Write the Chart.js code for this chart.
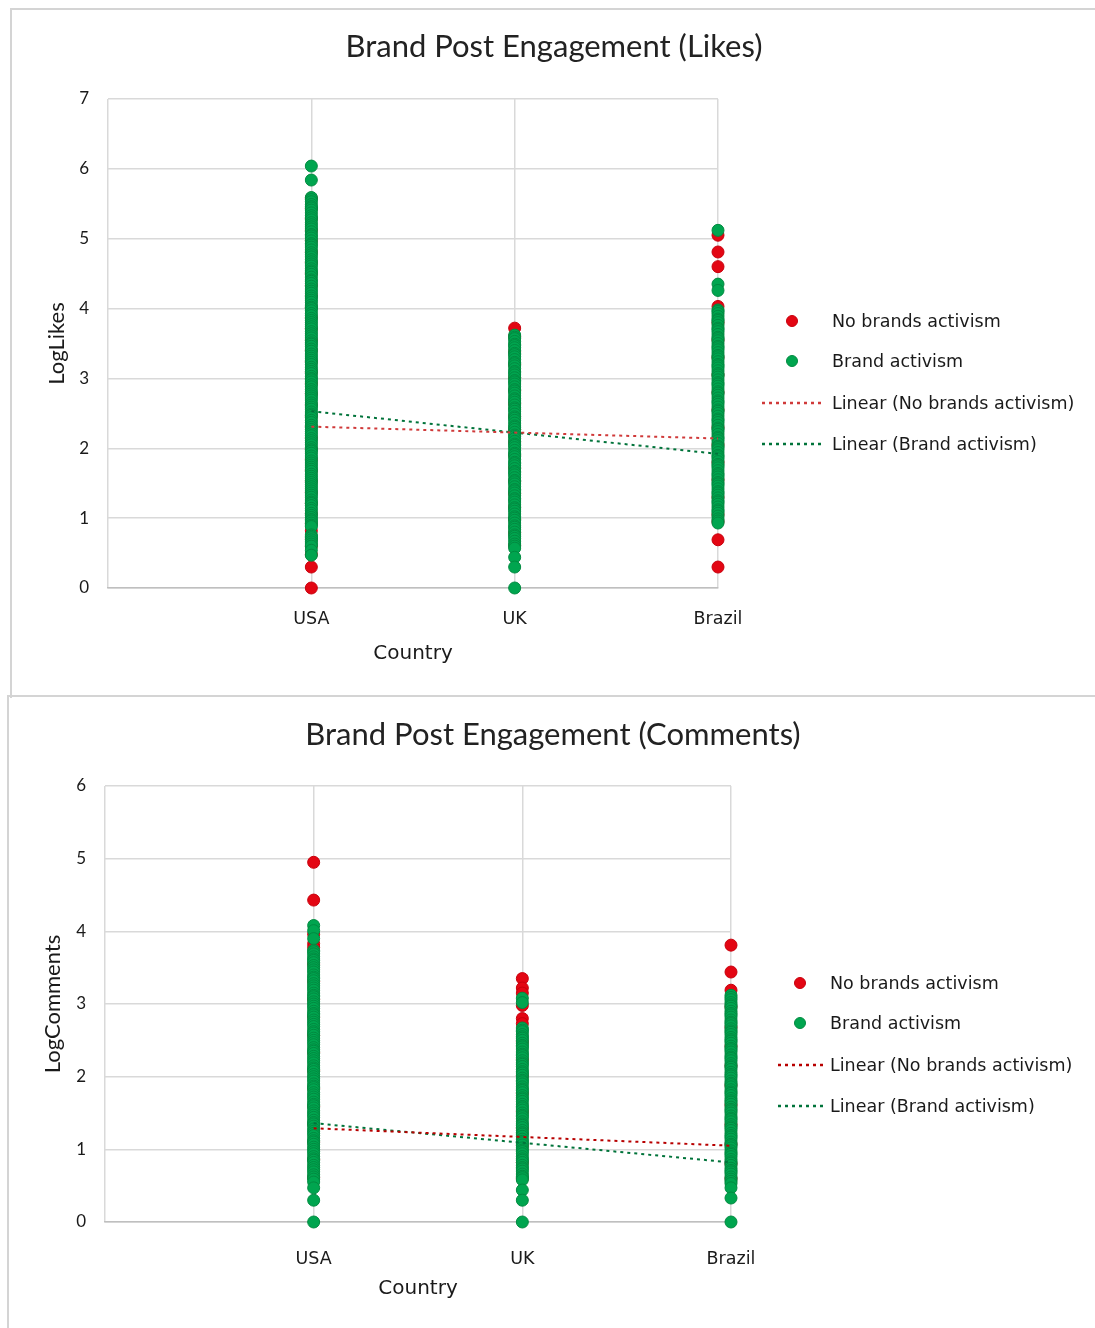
<!DOCTYPE html>
<html>
<head>
<meta charset="utf-8">
<title>Brand Post Engagement</title>
<script src="https://cdn.jsdelivr.net/npm/chart.js@4.4.0/dist/chart.umd.min.js"></script>
<style>
  html, body { margin: 0; padding: 0; background: #ffffff; }
  body { position: relative; width: 1095px; height: 1328px; overflow: hidden; }
  .panel { position: absolute; box-sizing: border-box; border-top: 2px solid #d4d4d4; border-left: 2px solid #d4d4d4; }
  canvas { position: absolute; }
  .legend-item { position: absolute; font-family: "DejaVu Sans", sans-serif; font-size: 17.5px; color: #1a1a1a; line-height: 20px; white-space: nowrap; }
</style>
</head>
<body>
<div class="panel" style="left:10px; top:8px; width:1100px; height:690px;"></div>
<div class="panel" style="left:7px; top:695px; width:1100px; height:640px;"></div>
<canvas id="likesChart" style="left:10px; top:8px;" width="1088" height="687"></canvas>
<canvas id="commentsChart" style="left:7px; top:697px;" width="1092" height="631"></canvas>
<div id="legends"></div>

<script>
// Category axis
const countries = ['USA', 'UK', 'Brazil'];

// ---- LogLikes ----
const likesActivismUSA = [6.04, 5.84, 5.59, 5.56, 5.53, 5.49, 5.46, 5.44, 5.41, 5.37, 5.33, 5.30, 5.27, 5.23, 5.20, 5.17,
  5.14, 5.10, 5.06, 5.04, 5.01, 4.97, 4.93, 4.91, 4.88, 4.84, 4.80, 4.77, 4.74, 4.70, 4.67, 4.64, 4.61, 4.57, 4.54,
  4.52, 4.49, 4.45, 4.41, 4.39, 4.36, 4.32, 4.28, 4.25, 4.22, 4.18, 4.15, 4.12, 4.09, 4.05, 4.02, 4.00, 3.97, 3.93,
  3.90, 3.86, 3.83, 3.80, 3.77, 3.74, 3.71, 3.67, 3.64, 3.61, 3.58, 3.54, 3.51, 3.49, 3.46, 3.42, 3.39, 3.35, 3.32,
  3.29, 3.26, 3.23, 3.20, 3.16, 3.13, 3.10, 3.07, 3.03, 3.00, 2.98, 2.95, 2.91, 2.88, 2.84, 2.81, 2.78, 2.75, 2.72,
  2.69, 2.65, 2.62, 2.59, 2.56, 2.52, 2.49, 2.47, 2.44, 2.40, 2.37, 2.33, 2.30, 2.27, 2.24, 2.21, 2.18, 2.14, 2.11,
  2.08, 2.05, 2.01, 1.98, 1.96, 1.93, 1.89, 1.86, 1.82, 1.79, 1.76, 1.73, 1.70, 1.67, 1.63, 1.60, 1.57, 1.54, 1.51,
  1.48, 1.45, 1.42, 1.39, 1.36, 1.33, 1.30, 1.26, 1.23, 1.21, 1.18, 1.14, 1.11, 1.07, 1.04, 1.01, 0.98, 0.96, 0.93,
  0.90, 0.88, 0.76, 0.74, 0.72, 0.69, 0.66, 0.63, 0.60, 0.54, 0.47];
const likesNoActivismUSA = [5.58, 5.43, 5.29, 5.12, 4.97, 4.81, 4.66, 4.50, 4.33, 4.18, 4.02, 3.87, 3.71, 3.55, 3.40,
  3.24, 3.09, 2.93, 2.78, 2.62, 2.46, 2.31, 2.15, 1.99, 1.84, 1.68, 1.53, 1.37, 1.21, 1.06, 0.92, 0.82, 0.70, 0.60,
  0.48, 0.30, 0.00];

const likesActivismUK = [3.62, 3.59, 3.57, 3.53, 3.49, 3.47, 3.44, 3.40, 3.36, 3.34, 3.31, 3.27, 3.23, 3.21, 3.18, 3.14,
  3.10, 3.08, 3.05, 3.01, 2.97, 2.95, 2.92, 2.88, 2.84, 2.82, 2.79, 2.75, 2.71, 2.69, 2.66, 2.62, 2.58, 2.56, 2.53,
  2.49, 2.45, 2.43, 2.40, 2.36, 2.32, 2.30, 2.27, 2.23, 2.19, 2.17, 2.14, 2.10, 2.06, 2.04, 2.01, 1.97, 1.93, 1.91,
  1.88, 1.84, 1.80, 1.78, 1.75, 1.71, 1.67, 1.65, 1.62, 1.58, 1.54, 1.52, 1.49, 1.45, 1.41, 1.39, 1.36, 1.32, 1.28,
  1.26, 1.23, 1.19, 1.15, 1.13, 1.10, 1.06, 1.02, 1.00, 0.97, 0.93, 0.89, 0.87, 0.84, 0.80, 0.76, 0.74, 0.71, 0.67,
  0.63, 0.60, 0.57, 0.44, 0.30, 0.00];
const likesNoActivismUK = [3.72, 3.60, 3.38, 3.20, 3.01, 2.83, 2.64, 2.46, 2.27, 2.09, 1.90, 1.72, 1.53, 1.35, 1.16,
  0.98, 0.79, 0.61];

const likesActivismBrazil = [5.12, 4.35, 4.26, 3.98, 3.96, 3.93, 3.89, 3.85, 3.83, 3.80, 3.76, 3.72, 3.70, 3.67, 3.63,
  3.59, 3.57, 3.54, 3.50, 3.46, 3.44, 3.41, 3.37, 3.33, 3.31, 3.28, 3.24, 3.20, 3.18, 3.15, 3.11, 3.07, 3.05, 3.02,
  2.98, 2.94, 2.92, 2.89, 2.85, 2.81, 2.79, 2.76, 2.72, 2.68, 2.66, 2.63, 2.59, 2.55, 2.53, 2.50, 2.46, 2.42, 2.40,
  2.37, 2.33, 2.29, 2.27, 2.24, 2.20, 2.16, 2.14, 2.11, 2.07, 2.03, 2.01, 1.98, 1.94, 1.90, 1.88, 1.85, 1.81, 1.77,
  1.75, 1.72, 1.68, 1.64, 1.62, 1.59, 1.55, 1.51, 1.49, 1.46, 1.42, 1.38, 1.36, 1.33, 1.29, 1.25, 1.23, 1.20, 1.16,
  1.12, 1.10, 1.07, 1.03, 0.99, 0.96, 0.93];
const likesNoActivismBrazil = [5.05, 4.81, 4.60, 4.03, 3.80, 3.55, 3.30, 3.05, 2.80, 2.55, 2.30, 2.05, 1.80, 1.55,
  1.30, 1.05, 0.95, 0.69, 0.30];

// Linear trend values at USA and Brazil
const likesTrendNoActivism = [2.31, 2.14];
const likesTrendActivism = [2.53, 1.92];

// ---- LogComments ----
const commentsActivismUSA = [4.08, 4.01, 3.90, 3.74, 3.72, 3.69, 3.65, 3.62, 3.60, 3.57, 3.53, 3.50, 3.47, 3.44, 3.40,
  3.37, 3.35, 3.32, 3.28, 3.25, 3.22, 3.19, 3.15, 3.12, 3.10, 3.07, 3.03, 3.00, 2.97, 2.94, 2.90, 2.87, 2.85, 2.82,
  2.78, 2.75, 2.72, 2.69, 2.65, 2.62, 2.60, 2.57, 2.53, 2.50, 2.47, 2.44, 2.40, 2.37, 2.35, 2.32, 2.28, 2.25, 2.22,
  2.19, 2.15, 2.12, 2.10, 2.07, 2.03, 2.00, 1.97, 1.94, 1.90, 1.87, 1.85, 1.82, 1.78, 1.75, 1.72, 1.69, 1.65, 1.62,
  1.60, 1.57, 1.53, 1.50, 1.47, 1.44, 1.40, 1.37, 1.35, 1.32, 1.28, 1.25, 1.22, 1.19, 1.15, 1.12, 1.10, 1.07, 1.03,
  1.00, 0.97, 0.94, 0.90, 0.87, 0.85, 0.82, 0.78, 0.75, 0.72, 0.69, 0.65, 0.62, 0.59, 0.55, 0.47, 0.30, 0.00];
const commentsNoActivismUSA = [4.95, 4.43, 3.96, 3.83, 3.78, 3.55, 3.31, 3.06, 2.82, 2.57, 2.33, 2.08, 1.84, 1.59,
  1.35, 1.10, 0.86, 0.61];

const commentsActivismUK = [3.08, 3.02, 2.67, 2.64, 2.62, 2.58, 2.55, 2.53, 2.50, 2.46, 2.43, 2.41, 2.38, 2.34, 2.31,
  2.29, 2.26, 2.22, 2.19, 2.17, 2.14, 2.10, 2.07, 2.05, 2.02, 1.98, 1.95, 1.93, 1.90, 1.86, 1.83, 1.81, 1.78, 1.74,
  1.71, 1.69, 1.66, 1.62, 1.59, 1.57, 1.54, 1.50, 1.47, 1.45, 1.42, 1.38, 1.35, 1.33, 1.30, 1.26, 1.23, 1.21, 1.18,
  1.14, 1.11, 1.09, 1.06, 1.02, 0.99, 0.97, 0.94, 0.90, 0.87, 0.85, 0.82, 0.78, 0.75, 0.73, 0.70, 0.66, 0.63, 0.61,
  0.58, 0.44, 0.30, 0.00];
const commentsNoActivismUK = [3.35, 3.22, 3.15, 2.98, 2.80, 2.73, 2.48, 2.24, 2.01, 1.77, 1.52, 1.29, 1.05, 0.82,
  0.60];

const commentsActivismBrazil = [3.12, 3.09, 3.06, 3.02, 2.99, 2.97, 2.94, 2.90, 2.87, 2.85, 2.82, 2.78, 2.75, 2.73,
  2.70, 2.66, 2.63, 2.61, 2.58, 2.54, 2.51, 2.49, 2.46, 2.42, 2.39, 2.37, 2.34, 2.30, 2.27, 2.25, 2.22, 2.18, 2.15,
  2.13, 2.10, 2.06, 2.03, 2.01, 1.98, 1.94, 1.91, 1.89, 1.86, 1.82, 1.79, 1.77, 1.74, 1.70, 1.67, 1.65, 1.62, 1.58,
  1.55, 1.53, 1.50, 1.46, 1.43, 1.41, 1.38, 1.34, 1.31, 1.29, 1.26, 1.22, 1.19, 1.17, 1.14, 1.10, 1.07, 1.05, 1.02,
  0.98, 0.95, 0.93, 0.90, 0.86, 0.83, 0.81, 0.78, 0.74, 0.71, 0.69, 0.66, 0.62, 0.59, 0.56, 0.53, 0.47, 0.33, 0.00];
const commentsNoActivismBrazil = [3.81, 3.44, 3.19, 2.96, 2.68, 2.42, 2.15, 1.88, 1.61, 1.34, 1.07, 0.80, 0.60];

const commentsTrendNoActivism = [1.29, 1.05];
const commentsTrendActivism = [1.36, 0.82];

// Y-axis tick values
const likesTicks = [0, 1, 2, 3, 4, 5, 6, 7];
const commentsTicks = [0, 1, 2, 3, 4, 5, 6];

// Colours
const RED = '#E30613';
const RED_EDGE = '#C8000C';
const GREEN = '#00A54F';
const GREEN_EDGE = '#008A40';
const GREEN_TREND = '#00733A';
const GRID = '#D9D9D9';
const TEXT = '#1a1a1a';

const TITLE_FONT = 'Lato, "Open Sans", sans-serif';
const LABEL_FONT = '"DejaVu Sans", sans-serif';

function toPoints(values, countryIndex) {
  return values.map(v => ({ x: countryIndex + 1, y: v }));
}
function trendPoints(ends) {
  return [{ x: 1, y: ends[0] }, { x: countries.length, y: ends[1] }];
}

function buildChart(canvas, s) {
  const ticks = s.ticks;
  return new Chart(canvas, {
    type: 'scatter',
    data: {
      datasets: [
        {
          label: 'Linear (No brands activism)',
          data: trendPoints(s.trendNo),
          showLine: true, pointRadius: 0, borderColor: s.redTrend, borderWidth: 2,
          borderDash: [3, 4], order: 0, clip: false
        },
        {
          label: 'Linear (Brand activism)',
          data: trendPoints(s.trendYes),
          showLine: true, pointRadius: 0, borderColor: GREEN_TREND, borderWidth: 2,
          borderDash: [3, 4], order: 0, clip: false
        },
        {
          label: 'Brand activism',
          data: [].concat(...s.yes.map((vals, i) => toPoints(vals, i))),
          pointRadius: 6, pointBackgroundColor: GREEN, pointBorderColor: GREEN_EDGE, pointBorderWidth: 1,
          backgroundColor: GREEN, borderColor: GREEN_EDGE, order: 1, clip: false
        },
        {
          label: 'No brands activism',
          data: [].concat(...s.no.map((vals, i) => toPoints(vals, i))),
          pointRadius: 6, pointBackgroundColor: RED, pointBorderColor: RED_EDGE, pointBorderWidth: 1,
          backgroundColor: RED, borderColor: RED_EDGE, order: 2, clip: false
        }
      ]
    },
    options: {
      responsive: false,
      animation: false,
      events: [],
      layout: { padding: 0 },
      plugins: {
        legend: { display: false },
        tooltip: { enabled: false },
        title: {
          display: true,
          text: s.title,
          color: '#222222',
          font: { family: TITLE_FONT, size: 31, weight: 'normal', lineHeight: 1.2 },
          padding: { top: s.titleTop, bottom: s.titleBottom }
        }
      },
      scales: {
        x: {
          type: 'linear', min: 0, max: countries.length,
          afterBuildTicks: sc => { sc.ticks = [0, 1, 2, 3].map(v => ({ value: v })); },
          afterFit: sc => { sc.height = s.xHeight; },
          ticks: {
            autoSkip: false, maxRotation: 0, padding: s.xTickPad, color: TEXT,
            font: { family: LABEL_FONT, size: 17.5 },
            callback: v => countries[v - 1] || ''
          },
          grid: { color: GRID, lineWidth: 1.5, drawTicks: false },
          border: { color: '#BFBFBF', width: 1.5 },
          title: {
            display: true, text: 'Country', color: TEXT,
            font: { family: LABEL_FONT, size: 20, lineHeight: 1.2 },
            padding: { top: 0, bottom: s.xTitlePad }
          }
        },
        y: {
          type: 'linear', min: ticks[0], max: ticks[ticks.length - 1],
          afterBuildTicks: sc => { sc.ticks = ticks.map(v => ({ value: v })); },
          afterFit: sc => { sc.width = s.yWidth; },
          ticks: {
            padding: 19, color: TEXT,
            font: { family: TITLE_FONT, size: 17 }
          },
          grid: { color: GRID, lineWidth: 1.5, drawTicks: false },
          border: { display: false },
          title: {
            display: true, text: s.yTitle, color: TEXT,
            font: { family: TITLE_FONT, size: 22, lineHeight: 1.2 },
            padding: { top: s.yTitlePad, bottom: 0 }
          }
        },
        legendSpace: {
          axis: 'y', position: 'right', display: true,
          afterFit: sc => { sc.width = s.rightWidth; },
          ticks: { display: false },
          grid: { display: false, drawTicks: false },
          border: { display: false }
        }
      }
    }
  });
}

const likesChart = buildChart(document.getElementById('likesChart'), {
  title: 'Brand Post Engagement (Likes)',
  yTitle: 'LogLikes',
  ticks: likesTicks,
  yes: [likesActivismUSA, likesActivismUK, likesActivismBrazil],
  no: [likesNoActivismUSA, likesNoActivismUK, likesNoActivismBrazil],
  trendNo: likesTrendNoActivism,
  trendYes: likesTrendActivism,
  redTrend: '#D03A3A',
  titleTop: 20.4, titleBottom: 33.4,
  xHeight: 107, xTickPad: 21, xTitlePad: 29,
  yWidth: 98, yTitlePad: 33.8,
  rightWidth: 380
});

const commentsChart = buildChart(document.getElementById('commentsChart'), {
  title: 'Brand Post Engagement (Comments)',
  yTitle: 'LogComments',
  ticks: commentsTicks,
  yes: [commentsActivismUSA, commentsActivismUK, commentsActivismBrazil],
  no: [commentsNoActivismUSA, commentsNoActivismUK, commentsNoActivismBrazil],
  trendNo: commentsTrendNoActivism,
  trendYes: commentsTrendActivism,
  redTrend: '#B80000',
  titleTop: 19.4, titleBottom: 32.4,
  xHeight: 106, xTickPad: 27, xTitlePad: 27,
  yWidth: 98, yTitlePad: 32.8,
  rightWidth: 368
});

// HTML legend beside each plot, built from the chart's datasets
function drawLegend(chart, box) {
  const host = document.getElementById('legends');
  const order = ['No brands activism', 'Brand activism', 'Linear (No brands activism)', 'Linear (Brand activism)'];
  const ds = chart.data.datasets;
  const svgNS = 'http://www.w3.org/2000/svg';
  order.forEach((label, i) => {
    const d = ds.find(x => x.label === label);
    const cy = box.rows[i];
    const svg = document.createElementNS(svgNS, 'svg');
    svg.setAttribute('width', '80');
    svg.setAttribute('height', '16');
    svg.style.position = 'absolute';
    svg.style.left = (box.lineX0 - 4) + 'px';
    svg.style.top = (cy - 8) + 'px';
    if (d.showLine) {
      const ln = document.createElementNS(svgNS, 'line');
      ln.setAttribute('x1', 4); ln.setAttribute('x2', 4 + box.lineX1 - box.lineX0);
      ln.setAttribute('y1', 8); ln.setAttribute('y2', 8);
      ln.setAttribute('stroke', d.borderColor);
      ln.setAttribute('stroke-width', 2.5);
      ln.setAttribute('stroke-dasharray', '3 4');
      svg.appendChild(ln);
    } else {
      const c = document.createElementNS(svgNS, 'circle');
      c.setAttribute('cx', box.markerX - box.lineX0 + 4);
      c.setAttribute('cy', 8);
      c.setAttribute('r', 5.5);
      c.setAttribute('fill', d.pointBackgroundColor);
      c.setAttribute('stroke', d.pointBorderColor);
      c.setAttribute('stroke-width', 1);
      svg.appendChild(c);
    }
    host.appendChild(svg);
    const t = document.createElement('div');
    t.className = 'legend-item';
    t.textContent = label;
    t.style.left = box.textX + 'px';
    t.style.top = (cy - 10) + 'px';
    host.appendChild(t);
  });
}

drawLegend(likesChart, { rows: [321, 361, 403, 444], markerX: 792, lineX0: 762, lineX1: 822, textX: 832 });
drawLegend(commentsChart, { rows: [983, 1023, 1065, 1106], markerX: 800, lineX0: 778, lineX1: 825, textX: 830 });
</script>
</body>
</html>
